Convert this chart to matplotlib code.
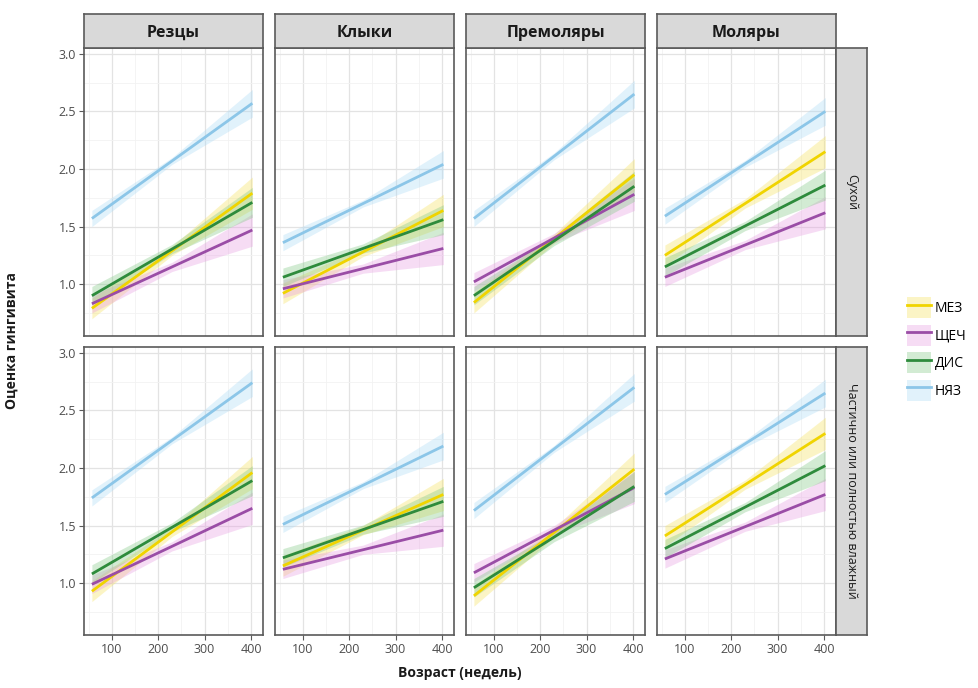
import matplotlib.pyplot as plt
from matplotlib.lines import Line2D
from matplotlib.patches import Patch
from matplotlib.ticker import MultipleLocator

plt.rcParams['font.family'] = ['Open Sans', 'DejaVu Sans']

teeth = ['Резцы', 'Клыки', 'Премоляры', 'Моляры']
conditions = ['Сухой', 'Частично или полностью влажный']
surfaces = ['МЕЗ', 'ЩЕЧ', 'ДИС', 'НЯЗ']
age = [57, 230, 403]

# fitted score at first / last age, rows = teeth, cols = surfaces
dry_start = [[0.79, 0.83, 0.90, 1.57],
             [0.92, 0.96, 1.06, 1.36],
             [0.84, 1.02, 0.90, 1.57],
             [1.25, 1.06, 1.15, 1.59]]
dry_end = [[1.79, 1.47, 1.71, 2.57],
           [1.64, 1.31, 1.56, 2.04],
           [1.95, 1.78, 1.85, 2.65],
           [2.15, 1.62, 1.86, 2.50]]
wet_start = [[0.93, 0.99, 1.08, 1.74],
             [1.15, 1.12, 1.22, 1.51],
             [0.89, 1.09, 0.96, 1.63],
             [1.41, 1.21, 1.30, 1.77]]
wet_end = [[1.96, 1.65, 1.89, 2.74],
           [1.77, 1.46, 1.71, 2.19],
           [1.99, 1.83, 1.84, 2.70],
           [2.30, 1.77, 2.02, 2.65]]

# half-width of the confidence band at first / middle / last age
band = {'МЕЗ': [0.09, 0.04, 0.14],
        'ЩЕЧ': [0.08, 0.04, 0.14],
        'ДИС': [0.08, 0.04, 0.13],
        'НЯЗ': [0.07, 0.03, 0.12]}

line_colors = {'МЕЗ': '#F0D400', 'ЩЕЧ': '#9A4DA6', 'ДИС': '#2E8B3C', 'НЯЗ': '#8CC6E8'}
fill_colors = {'МЕЗ': '#F6E25A', 'ЩЕЧ': '#E79BE2', 'ДИС': '#7FC882', 'НЯЗ': '#A9DAF6'}

W, H = 979, 688
fig = plt.figure(figsize=(W / 100, H / 100), dpi=100)

lefts = [84, 275, 466, 657]
pw = 179
tops = [48, 347]
ph = 288
strip_h = 34
grey = '#4D4D4D'

for r, cond in enumerate(conditions):
    starts = dry_start if r == 0 else wet_start
    ends = dry_end if r == 0 else wet_end
    for c, tooth in enumerate(teeth):
        ax = fig.add_axes([lefts[c] / W, 1 - (tops[r] + ph) / H, pw / W, ph / H])
        ax.set_facecolor('white')
        for k, s in enumerate(surfaces):
            y0, y1 = starts[c][k], ends[c][k]
            yc = (y0 + y1) / 2
            ys = [y0, yc, y1]
            lo = [y - b for y, b in zip(ys, band[s])]
            hi = [y + b for y, b in zip(ys, band[s])]
            ax.fill_between(age, lo, hi, color=fill_colors[s], alpha=0.35,
                            lw=0, zorder=2)
        for k, s in enumerate(surfaces):
            ax.plot([age[0], age[-1]], [starts[c][k], ends[c][k]],
                    color=line_colors[s], lw=2.0, zorder=3,
                    solid_capstyle='butt')
        ax.set_xlim(40, 426)
        ax.set_ylim(0.55, 3.05)
        ax.xaxis.set_major_locator(MultipleLocator(100))
        ax.xaxis.set_minor_locator(MultipleLocator(50))
        ax.yaxis.set_major_locator(MultipleLocator(0.5))
        ax.yaxis.set_minor_locator(MultipleLocator(0.25))
        ax.grid(which='major', color='#E3E3E3', lw=0.9, zorder=0)
        ax.grid(which='minor', color='#F2F2F2', lw=0.6, zorder=0)
        ax.set_axisbelow(True)
        for sp in ax.spines.values():
            sp.set_color('#5A5A5A')
            sp.set_linewidth(1.2)
        ax.tick_params(which='minor', length=0)
        ax.tick_params(which='major', length=3.5, color='#5A5A5A', width=0.8,
                       labelsize=9, labelcolor=grey, pad=2)
        if r == 1:
            ax.set_xticks([100, 200, 300, 400])
        else:
            ax.tick_params(axis='x', labelbottom=False, length=0)
        if c == 0:
            ax.set_yticklabels([f'{v:.1f}' for v in ax.get_yticks()])
        else:
            ax.tick_params(axis='y', labelleft=False, length=0)

        # top strip
        if r == 0:
            sax = fig.add_axes([lefts[c] / W, 1 - tops[0] / H, pw / W, strip_h / H])
            sax.set_facecolor('#D9D9D9')
            sax.set_xticks([])
            sax.set_yticks([])
            for sp in sax.spines.values():
                sp.set_color('#5A5A5A')
                sp.set_linewidth(1.2)
            sax.text(0.5, 0.45, tooth, ha='center', va='center',
                     fontsize=11.5, fontweight='bold', color='#1A1A1A',
                     transform=sax.transAxes)

    # right strip
    rax = fig.add_axes([(lefts[3] + pw) / W, 1 - (tops[r] + ph) / H, 31 / W, ph / H])
    rax.set_facecolor('#D9D9D9')
    rax.set_xticks([])
    rax.set_yticks([])
    for sp in rax.spines.values():
        sp.set_color('#5A5A5A')
        sp.set_linewidth(1.2)
    rax.text(0.5, 0.5, cond, ha='center', va='center', rotation=-90,
             fontsize=9, color='#1A1A1A', transform=rax.transAxes)

fig.text(12 / W, 1 - 341 / H, 'Оценка гингивита', rotation=90, ha='center',
         va='center', fontsize=10, fontweight='bold', color='#1A1A1A')
fig.text(460 / W, 1 - 673 / H, 'Возраст (недель)', ha='center', va='center',
         fontsize=10, fontweight='bold', color='#1A1A1A')

handles = [(Patch(facecolor=fill_colors[s], alpha=0.35, lw=0),
            Line2D([], [], color=line_colors[s], lw=2.0)) for s in surfaces]
fig.legend(handles, surfaces, loc='center left',
           bbox_to_anchor=(900 / W, 1 - 349 / H), frameon=False,
           fontsize=10, handlelength=1.7, handleheight=1.9,
           labelspacing=0.5, handletextpad=0.3, borderpad=0)

fig.savefig('out.png', dpi=100, facecolor='white')
